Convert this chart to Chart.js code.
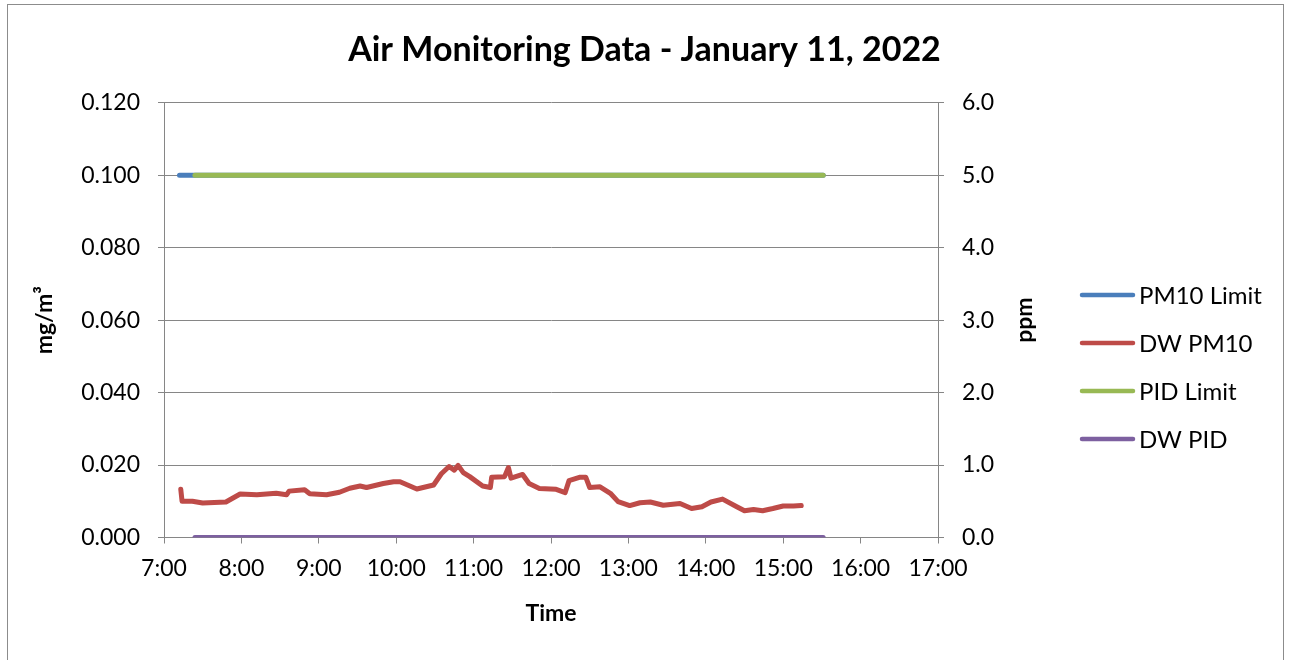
<!DOCTYPE html>
<html><head><meta charset="utf-8">
<script src="https://cdn.jsdelivr.net/npm/chart.js@4.4.1/dist/chart.umd.min.js"></script>
<style>html,body{margin:0;padding:0;background:#fff}canvas{display:block}</style>
</head><body>
<canvas id="c" width="1289" height="660"></canvas>
<script>
const chartTitle = 'Air Monitoring Data - January 11, 2022';
const xAxisTitle = 'Time';
const leftAxisTitle = 'mg/m³';
const rightAxisTitle = 'ppm';
const seriesNames = ['PM10 Limit', 'DW PM10', 'PID Limit', 'DW PID'];

const dwPm10Times = ['7:13','7:14','7:22','7:30','7:48','7:59','8:12','8:27','8:35','8:37','8:49','8:53','9:06','9:16','9:24','9:32','9:37','9:50','9:58','10:03','10:16','10:29','10:35','10:41','10:45','10:48','10:52','10:57','11:07','11:13','11:14','11:24','11:27','11:29','11:38','11:43','11:51','12:04','12:11','12:14','12:22','12:27','12:30','12:38','12:46','12:52','13:01','13:09','13:17','13:27','13:40','13:49','13:57','14:04','14:13','14:24','14:30','14:37','14:44','14:52','15:00','15:08','15:14'];
const dwPm10Values = [0.0133,0.0100,0.0100,0.0095,0.0098,0.0120,0.0118,0.0122,0.0118,0.0128,0.0132,0.0121,0.0118,0.0125,0.0136,0.0142,0.0138,0.0149,0.0154,0.0154,0.0134,0.0145,0.0176,0.0196,0.0186,0.0199,0.0179,0.0168,0.0142,0.0138,0.0166,0.0168,0.0193,0.0164,0.0174,0.0149,0.0135,0.0133,0.0124,0.0157,0.0166,0.0166,0.0138,0.0140,0.0122,0.0099,0.0088,0.0096,0.0098,0.0089,0.0094,0.0080,0.0085,0.0098,0.0106,0.0085,0.0074,0.0077,0.0074,0.0080,0.0087,0.0087,0.0088];

const pm10LimitTimes = ['7:12','15:31'];
const pm10LimitValues = [0.100, 0.100];
const pidLimitTimes = ['7:24','15:31'];
const pidLimitValues = [5.0, 5.0];
const dwPidTimes = ['7:24','15:31'];
const dwPidValues = [0.0, 0.0];

const xTickHours = [7,8,9,10,11,12,13,14,15,16,17];
const leftTicks = [0, 0.02, 0.04, 0.06, 0.08, 0.10, 0.12];
const rightTicks = [0, 1, 2, 3, 4, 5, 6];

const colors = ['#4A7EBB', '#BE4B48', '#98B954', '#7D60A0'];
const FONT = 'Lato, "Open Sans", sans-serif';

function toHours(s){ const [h,m] = s.split(':').map(Number); return h + m/60; }
function pts(times, vals){ return times.map((t,i)=>({x: toHours(t), y: vals[i]})); }

const legendPlugin = {
  id: 'customLegend',
  afterDraw(chart){
    const ctx = chart.ctx;
    ctx.save();
    seriesNames.forEach((name, i) => {
      const y = 295 + i*48;
      ctx.strokeStyle = colors[i];
      ctx.lineWidth = 4.5;
      ctx.lineCap = 'round';
      ctx.beginPath(); ctx.moveTo(1082, y); ctx.lineTo(1133, y); ctx.stroke();
      ctx.fillStyle = '#000';
      ctx.font = '24px ' + FONT;
      ctx.textBaseline = 'middle';
      ctx.textAlign = 'left';
      ctx.fillText(name, 1139, y + 1);
    });
    // right axis title, rotated like Excel (bottom to top)
    ctx.translate(1025, (chart.chartArea.top + chart.chartArea.bottom)/2);
    ctx.rotate(-Math.PI/2);
    ctx.font = 'bold 23px ' + FONT;
    ctx.textAlign = 'center';
    ctx.textBaseline = 'middle';
    ctx.fillText(rightAxisTitle, 0, 0);
    ctx.restore();
  }
};
const borderPlugin = {
  id: 'outerBorder',
  beforeDraw(chart){
    const ctx = chart.ctx;
    ctx.save();
    ctx.fillStyle = '#fff';
    ctx.fillRect(0,0,chart.width,chart.height);
    ctx.strokeStyle = '#8c8c8c';
    ctx.lineWidth = 1;
    ctx.strokeRect(7.5, 4.5, 1276, 670);
    ctx.restore();
  }
};

const gridColor = '#868686';

new Chart(document.getElementById('c'), {
  type: 'line',
  data: {
    datasets: [
      {label: seriesNames[0], data: pts(pm10LimitTimes, pm10LimitValues), yAxisID: 'y', borderColor: colors[0], backgroundColor: colors[0], borderWidth: 5, pointRadius: 0, order: 4, borderCapStyle: 'round'},
      {label: seriesNames[1], data: pts(dwPm10Times, dwPm10Values), yAxisID: 'y', borderColor: colors[1], backgroundColor: colors[1], borderWidth: 5, pointRadius: 0, order: 3, borderCapStyle: 'round', borderJoinStyle: 'round'},
      {label: seriesNames[2], data: pts(pidLimitTimes, pidLimitValues), yAxisID: 'y2', borderColor: colors[2], backgroundColor: colors[2], borderWidth: 5, pointRadius: 0, order: 2, borderCapStyle: 'round'},
      {label: seriesNames[3], data: pts(dwPidTimes, dwPidValues), yAxisID: 'y2', borderColor: colors[3], backgroundColor: colors[3], borderWidth: 5, pointRadius: 0, order: 1, borderCapStyle: 'round'}
    ]
  },
  options: {
    responsive: false,
    animation: false,
    devicePixelRatio: 1,
    layout: {padding: {left: 0, right: 0, top: 7, bottom: 0}},
    plugins: {
      legend: {display: false},
      tooltip: {enabled: false},
      title: {display: true, text: chartTitle, color: '#000', font: {family: FONT, size: 34, weight: 'bold'}, padding: {top: 23, bottom: 32}}
    },
    scales: {
      x: {
        type: 'linear', min: xTickHours[0], max: xTickHours[xTickHours.length-1],
        afterBuildTicks: s => { s.ticks = xTickHours.map(v => ({value: v})); },
        afterFit: s => { s.height = 122.5; },
        ticks: {color: '#000', font: {family: FONT, size: 23}, padding: 11, callback: v => v + ':00', maxRotation: 0, autoSkip: false},
        grid: {drawOnChartArea: false, drawTicks: true, tickLength: 6, color: gridColor},
        border: {color: gridColor},
        title: {display: true, text: xAxisTitle, color: '#000', font: {family: FONT, size: 23, weight: 'bold'}, padding: {top: 0, bottom: 33}}
      },
      y: {
        position: 'left', min: 0, max: 0.12,
        afterBuildTicks: s => { s.ticks = leftTicks.map(v => ({value: v})); },
        afterFit: s => { s.width = 164; },
        ticks: {color: '#000', font: {family: FONT, size: 23}, padding: 18, callback: v => Number(v).toFixed(3)},
        grid: {color: gridColor, tickLength: 6, lineWidth: 1},
        border: {color: gridColor},
        title: {display: true, text: leftAxisTitle, color: '#000', font: {family: FONT, size: 23, weight: 'bold'}, padding: {top: 31, bottom: 0}}
      },
      y2: {
        position: 'right', min: 0, max: 6,
        afterBuildTicks: s => { s.ticks = rightTicks.map(v => ({value: v})); },
        afterFit: s => { s.width = 1289 - 938; },
        ticks: {color: '#000', font: {family: FONT, size: 23}, padding: 18, callback: v => Number(v).toFixed(1)},
        grid: {drawOnChartArea: false, color: gridColor, tickLength: 6},
        border: {color: gridColor}
      }
    }
  },
  plugins: [borderPlugin, legendPlugin]
});
</script>
</body></html>
